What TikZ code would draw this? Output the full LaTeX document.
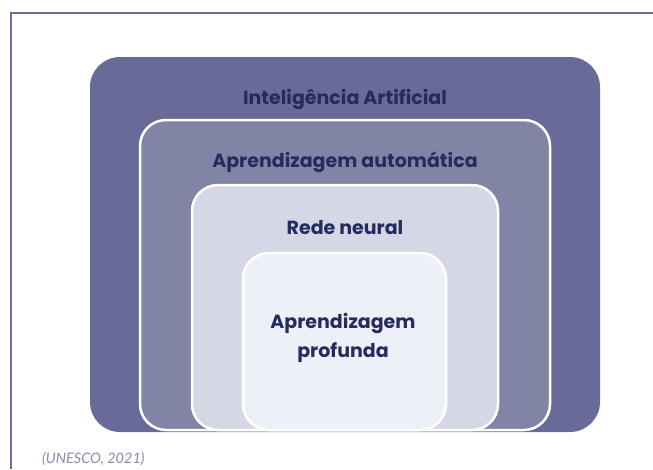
\documentclass[tikz,border=0pt]{standalone}
\usepackage{fontspec}
\setmainfont{Lato}
\newfontfamily\labelfont{Poppins}
\begin{document}
\begin{tikzpicture}[x=1pt,y=-1pt,
  lbl/.style={font=\labelfont\fontsize{19}{29}\selectfont\bfseries, text=txt, align=center, inner sep=0, anchor=base},
  box/.style={draw=white, line width=2.5pt, rounded corners=26pt, inner sep=0}]
\definecolor{frame}{HTML}{6B6E9A}
\definecolor{c1}{HTML}{686B97}
\definecolor{c2}{HTML}{8184A4}
\definecolor{c3}{HTML}{D5D7E7}
\definecolor{c4}{HTML}{EEF0F8}
\definecolor{txt}{HTML}{262B5F}
\definecolor{cap}{HTML}{8A8AAA}
\useasboundingbox (0,0) rectangle (653,469);
\fill[white] (0,0) rectangle (653,469);
\coordinate (fa) at (653,13.3);
\coordinate (fb) at (11,13.3);
\coordinate (fc) at (11,469);
\draw[frame, line width=2pt] (fa) -- (fb) -- (fc);
\node[fill=c1, rounded corners=30pt, inner sep=0, minimum width=510pt, minimum height=375pt] (ia) at (345,244.5) {};
\node[box, fill=c2, minimum width=410pt, minimum height=310pt] (aa) at (345,275) {};
\node[box, fill=c3, minimum width=306pt, minimum height=245pt] (rn) at (345,307.5) {};
\node[box, fill=c4, minimum width=203pt, minimum height=177pt] (ap) at (344.5,341.5) {};
\node[lbl] (tia) at (345,104) {Inteligência Artificial};
\node[lbl] (taa) at (345,167) {Aprendizagem automática};
\node[lbl] (trn) at (345,234) {Rede neural};
\node[lbl] (tap1) at (343,328) {Aprendizagem};
\node[lbl] (tap2) at (343,357) {profunda};
\node[font=\fontsize{14.5}{17}\selectfont\itshape, text=cap, anchor=base west, inner sep=0] (src) at (42,463) {(UNESCO, 2021)};
\end{tikzpicture}
\end{document}
